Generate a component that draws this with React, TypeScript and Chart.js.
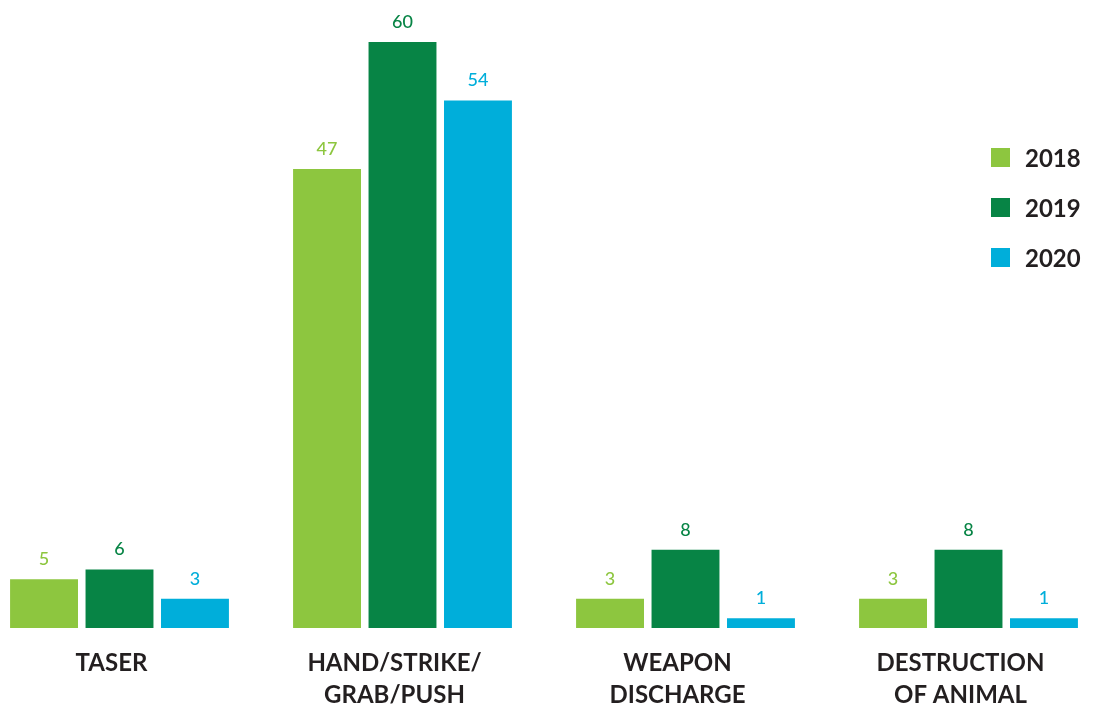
import React, { useEffect, useRef } from "react";
import { Chart, registerables } from "chart.js";

Chart.register(...registerables);

const categories: (string | string[])[] = [
  "TASER",
  ["HAND/STRIKE/", "GRAB/PUSH"],
  ["WEAPON", "DISCHARGE"],
  ["DESTRUCTION", "OF ANIMAL"],
];
const seriesNames = ["2018", "2019", "2020"];
const values2018 = [5, 47, 3, 3];
const values2019 = [6, 60, 8, 8];
const values2020 = [3, 54, 1, 1];
const colors = ["#8DC63F", "#078445", "#00AEDA"];

const FONT = "Lato, 'Open Sans', sans-serif";

const valueLabels = {
  id: "valueLabels",
  afterDatasetsDraw(chart: any) {
    const ctx = chart.ctx;
    ctx.save();
    chart.data.datasets.forEach((ds: any, i: number) => {
      const meta = chart.getDatasetMeta(i);
      meta.data.forEach((el: any, j: number) => {
        ctx.font = `500 18px ${FONT}`;
        ctx.fillStyle = ds.backgroundColor;
        ctx.textAlign = "center";
        ctx.textBaseline = "bottom";
        ctx.fillText(String(ds.data[j]), el.x, el.y - 11);
      });
    });
    ctx.restore();
  },
};

export default function App() {
  const ref = useRef<HTMLCanvasElement>(null);
  useEffect(() => {
    if (!ref.current) return;
    const series = [values2018, values2019, values2020];
    const chart = new Chart(ref.current, {
      type: "bar",
      data: {
        labels: categories as any,
        datasets: series.map((d, i) => ({
          label: seriesNames[i],
          data: d,
          backgroundColor: colors[i],
          borderWidth: 0,
          categoryPercentage: 0.8,
          barPercentage: 0.9,
        })),
      },
      options: {
        responsive: false,
        devicePixelRatio: 1,
        animation: false,
        layout: { padding: { top: 42, left: 0, right: 0, bottom: 0 } },
        plugins: { legend: { display: false }, tooltip: { enabled: false } },
        scales: {
          y: { display: false, min: 0, max: 60 },
          x: {
            grid: { display: false },
            border: { display: false },
            ticks: {
              color: "#231F20",
              font: { family: FONT, size: 24, weight: "bold", lineHeight: "32px" },
              padding: 11,
              labelOffset: -8,
              maxRotation: 0,
              autoSkip: false,
            },
            afterFit(scale: any) {
              scale.height = 79;
            },
          },
        },
      },
      plugins: [valueLabels],
    });
    return () => chart.destroy();
  }, []);

  return (
    <div
      style={{
        position: "fixed",
        left: 0,
        top: 0,
        width: 1093,
        height: 707,
        overflow: "hidden",
        background: "#fff",
      }}
    >
      <canvas
        ref={ref}
        width={1132}
        height={707}
        style={{ position: "absolute", left: -22, top: 0 }}
      />
      <div style={{ position: "absolute", left: 991, top: 140, fontFamily: FONT }}>
        {seriesNames.map((n, i) => (
          <div
            key={n}
            style={{ display: "flex", alignItems: "center", height: 34, marginBottom: 16 }}
          >
            <span
              style={{ width: 19, height: 19, background: colors[i], display: "inline-block" }}
            />
            <span
              style={{
                marginLeft: 15,
                fontSize: 24,
                fontWeight: 700,
                color: "#231F20",
              }}
            >
              {n}
            </span>
          </div>
        ))}
      </div>
    </div>
  );
}
